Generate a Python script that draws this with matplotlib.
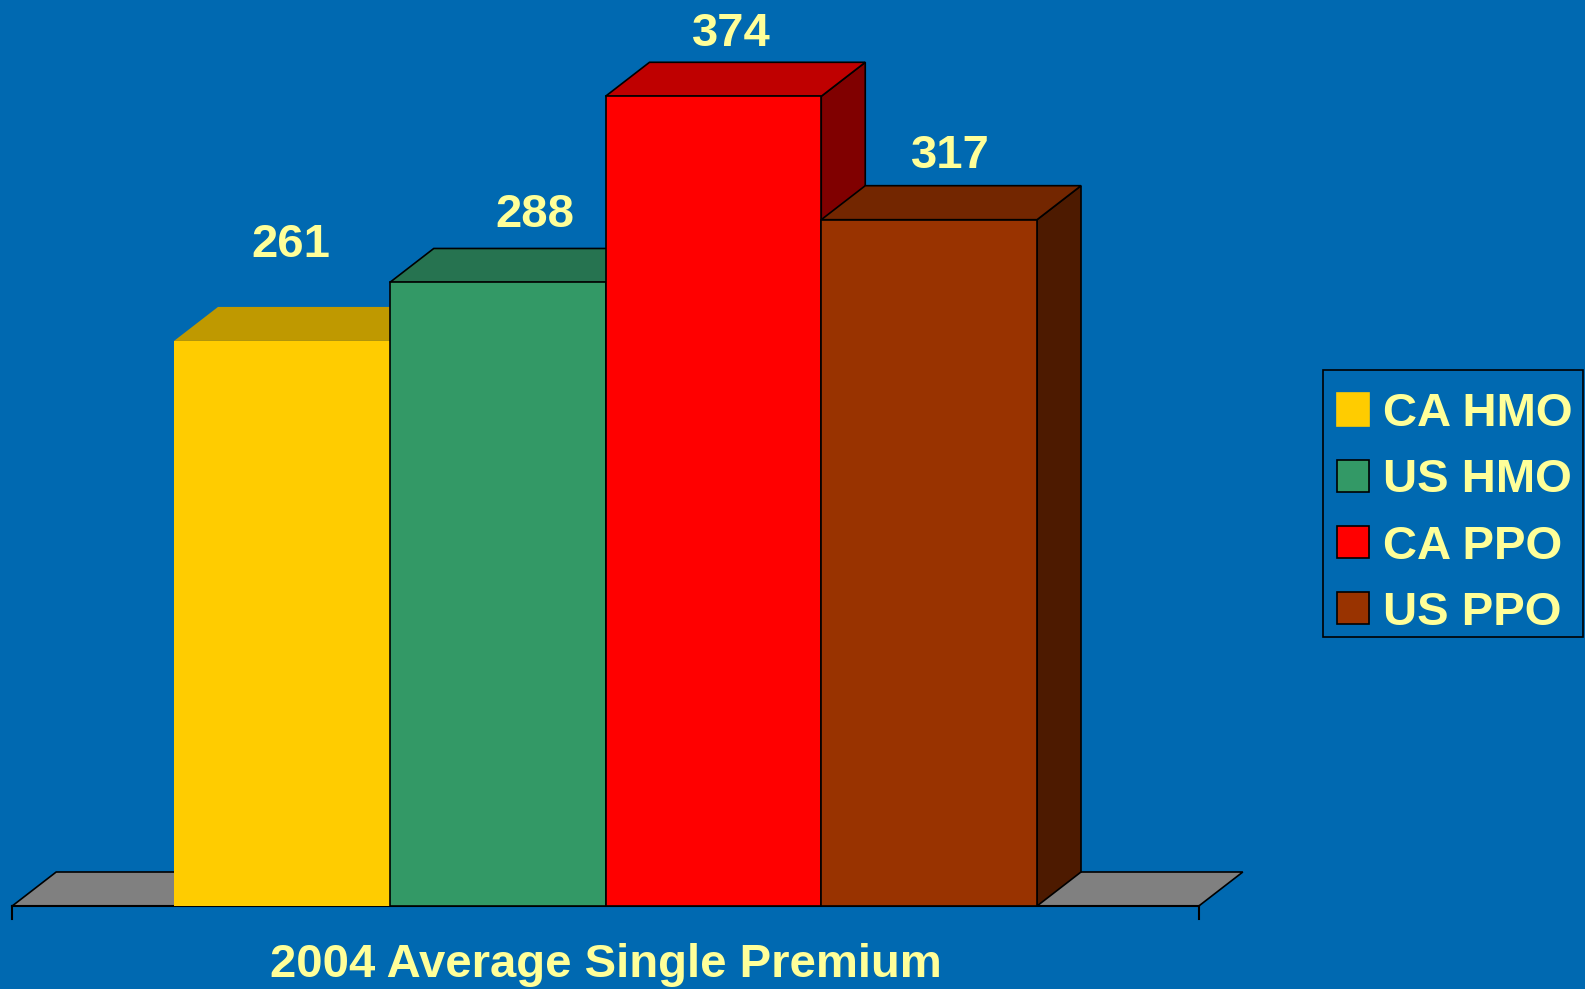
import numpy as np
import matplotlib.pyplot as plt
from matplotlib.patches import Polygon, Patch, Rectangle

plt.rcParams['font.family'] = ['Liberation Sans', 'DejaVu Sans']
plt.rcParams['font.weight'] = 'bold'

# 2004 average single premium by plan type
plans = ['CA HMO', 'US HMO', 'CA PPO', 'US PPO']
premium = [261, 288, 374, 317]
title = '2004 Average Single Premium'

bg = '#0069B1'
txt = '#FFFF99'
front = ['#FFCC00', '#339966', '#FF0000', '#993300']
top = ['#BF9900', '#267350', '#BF0000', '#732600']
side = ['#806600', '#1A4D33', '#800000', '#4D1A00']
edge = ['none', 'black', 'black', 'black']

W, H = 1585, 989
fig = plt.figure(figsize=(W / 100, H / 100), dpi=100, facecolor=bg)
ax = fig.add_axes([0, 0, 1, 1])
ax.set_facecolor(bg)
ax.axis('off')

# pixel scale of the axes: one bar = 215.75 px, one unit = 2.165 px
bw_px, unit_px = 215.75, 2.165
x0_px, base_px = 174, 906
ax.set_xlim(-x0_px / bw_px, (W - x0_px) / bw_px)
ax.set_ylim(-(H - base_px) / unit_px, base_px / unit_px)

dx = 44 / bw_px      # depth offset, x
dy = 34 / unit_px    # depth offset, y
n = len(premium)
over = 0.75

# floor
floor = Polygon([(-over, 0), (n + over, 0), (n + over + dx, dy), (-over + dx, dy)],
                closed=True, fc='#808080', ec='black', lw=1.2, zorder=1)
ax.add_patch(floor)
ax.plot([-over, n + over], [0, 0], color='black', lw=1.5, zorder=2)
for xe in (-over, n + over):
    ax.plot([xe, xe], [0, -6], color='black', lw=1.5, zorder=2)

# bars, drawn left to right so each front hides the previous side face
for i, v in enumerate(premium):
    z = 3 + i
    l, r = i, i + 1
    faces = [
        ([(r, 0), (r + dx, dy), (r + dx, v + dy), (r, v)], side[i]),
        ([(l, v), (r, v), (r + dx, v + dy), (l + dx, v + dy)], top[i]),
        ([(l, 0), (r, 0), (r, v), (l, v)], front[i]),
    ]
    for pts, c in faces:
        ax.add_patch(Polygon(pts, closed=True, fc=c, ec=edge[i], lw=1.2,
                             joinstyle='miter', zorder=z))

# value labels above each bar (offsets in px from top-back midpoint)
label_off = [(-13, 62), (15, 33), (-4, 28), (-1, 30)]
for i, v in enumerate(premium):
    ox, oy = label_off[i]
    ax.annotate(str(v), xy=(i + 0.5 + dx / 2, v + dy),
                xytext=(ox * 0.72, oy * 0.72), textcoords='offset points',
                ha='center', va='center', fontsize=34, color=txt,
                fontweight='bold', zorder=10)

fig.text(606 / W, 1 - 965 / H, title, ha='center', va='center',
         fontsize=34, color=txt, fontweight='bold')

# legend box drawn separately so its padding can be set exactly
box = Rectangle((1323 / W, 1 - 637 / H), 260 / W, 267 / H,
                transform=fig.transFigure, fc=bg, ec='black', lw=1.2, zorder=4)
fig.add_artist(box)

handles = [Patch(fc=front[i], ec=('black' if edge[i] != 'none' else front[i]),
                 lw=1.2, label=plans[i]) for i in range(n)]
leg = fig.legend(handles=handles, loc='upper left',
                 bbox_to_anchor=(1323 / W, 1 - 378 / H), borderaxespad=0,
                 fontsize=34, handlelength=0.68, handleheight=0.68,
                 handletextpad=0.3, borderpad=0.3, labelspacing=0.47,
                 frameon=False,
                 prop={'family': 'Liberation Sans', 'weight': 'bold', 'size': 34})
leg.set_zorder(5)
for t in leg.get_texts():
    t.set_color(txt)

fig.savefig('out.png', dpi=100, facecolor=bg)
